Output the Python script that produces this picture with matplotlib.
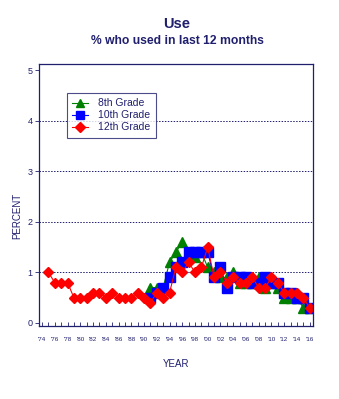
import matplotlib.pyplot as plt
from matplotlib.ticker import MultipleLocator, FixedLocator

plt.rcParams['font.family'] = ['Liberation Sans', 'DejaVu Sans']

navy = '#1f1f6e'

years_12 = list(range(1975, 2017))
grade12 = [1.0, 0.8, 0.8, 0.8, 0.5, 0.5, 0.5, 0.6, 0.6, 0.5,
           0.6, 0.5, 0.5, 0.5, 0.6, 0.5, 0.4, 0.6, 0.5, 0.6,
           1.1, 1.0, 1.2, 1.0, 1.1, 1.5, 0.9, 1.0, 0.8, 0.9,
           0.8, 0.8, 0.9, 0.7, 0.7, 0.9, 0.8, 0.6, 0.6, 0.6,
           0.5, 0.3]

years_8_10 = list(range(1991, 2017))
grade8 = [0.7, 0.7, 0.7, 1.2, 1.4, 1.6, 1.3, 1.3, 1.4, 1.1,
          1.0, 0.9, 0.9, 1.0, 0.8, 0.8, 0.8, 0.9, 0.7, 0.8,
          0.7, 0.5, 0.5, 0.5, 0.3, 0.3]
grade10 = [0.5, 0.6, 0.7, 0.9, 1.1, 1.2, 1.4, 1.4, 1.4, 1.4,
           0.9, 1.1, 0.7, 0.9, 0.9, 0.9, 0.8, 0.8, 0.9, 0.8,
           0.8, 0.6, 0.6, 0.5, 0.5, 0.3]

xtick_years = list(range(1974, 2017, 2))
xtick_labels = ["'%02d" % (y % 100) for y in xtick_years]

fig = plt.figure(figsize=(3.39, 3.99), dpi=100)
ax = fig.add_axes([0.1165, 0.183, 0.8065, 0.657])

ax.plot(years_8_10, grade8, color='#008000', marker='^', ms=7, lw=0.8,
        label='8th Grade')
ax.plot(years_8_10, grade10, color='#0000ff', marker='s', ms=6.5, lw=0.8,
        label='10th Grade')
ax.plot(years_12, grade12, color='#ff0000', marker='D', ms=5.5, lw=0.8,
        label='12th Grade')

ax.set_xlim(1973.6, 2016.5)
ax.set_ylim(-0.06, 5.13)

ax.yaxis.set_major_locator(FixedLocator([0, 1, 2, 3, 4, 5]))
for yv in [1, 2, 3, 4]:
    ax.axhline(yv, color=navy, lw=0.7, ls=(0, (1.5, 1.5)), zorder=0)

ax.set_xticks(xtick_years)
ax.set_xticklabels(xtick_labels)
ax.xaxis.set_minor_locator(MultipleLocator(1))
ax.tick_params(axis='x', which='both', direction='in', length=3, width=0.6,
               colors=navy, labelsize=4.5, pad=8)
ax.tick_params(axis='y', direction='out', length=3, width=0.6,
               colors=navy, labelsize=6.5, pad=2)

for s in ax.spines.values():
    s.set_color(navy)
    s.set_linewidth(0.9)

ax.set_ylabel('PERCENT', color=navy, fontsize=7)
ax.yaxis.set_label_coords(-0.062, 0.42)
ax.set_xlabel('YEAR', color=navy, fontsize=7)
ax.xaxis.set_label_coords(0.5, -0.126)

fig.text(0.522, 0.94, 'Use', ha='center', va='center', fontsize=10.5,
         fontweight='bold', color=navy)
fig.text(0.522, 0.897, '% who used in last 12 months', ha='center',
         va='center', fontsize=8.7, fontweight='bold', color=navy)

leg = ax.legend(loc='upper left', bbox_to_anchor=(0.1, 0.889),
                fontsize=7.5, frameon=True, fancybox=False,
                borderpad=0.5, handlelength=1.5, labelspacing=0.2,
                handletextpad=1.0, markerscale=0.9, borderaxespad=0)
leg.get_frame().set_edgecolor(navy)
leg.get_frame().set_linewidth(0.8)
for t in leg.get_texts():
    t.set_color(navy)

fig.savefig('out.png', dpi=100)
